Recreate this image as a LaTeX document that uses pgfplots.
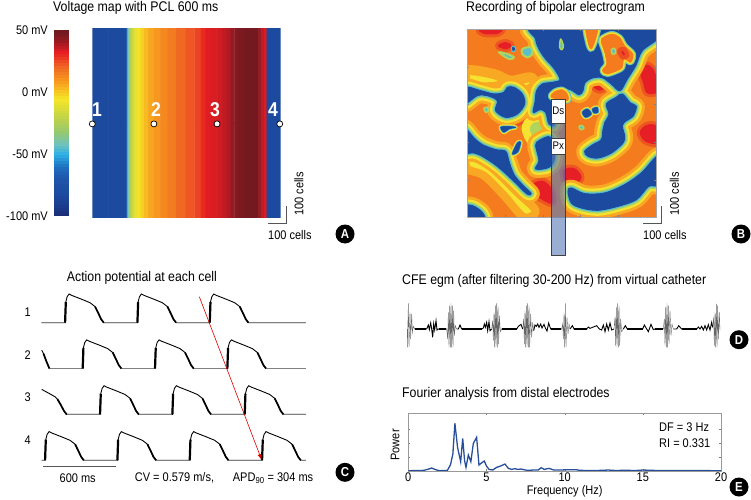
\documentclass[border=0pt]{standalone}
\usepackage{fontspec}
\setmainfont{Liberation Sans}[FakeStretch=0.88]
\usepackage{pgfplots}
\usepackage{pgfplotstable}
\pgfplotsset{compat=1.18}
\usetikzlibrary{arrows.meta}

\definecolor{lg}{HTML}{555555}
\definecolor{mapblue}{RGB}{28,74,158}
\definecolor{maporange}{RGB}{244,124,30}
\definecolor{mapred}{RGB}{230,30,38}
\definecolor{hlo}{RGB}{248,168,34}
\definecolor{hye}{RGB}{246,226,48}
\definecolor{hgr}{RGB}{176,212,92}
\definecolor{hcy}{RGB}{92,192,200}
\definecolor{specblue}{RGB}{38,78,155}

\pgfplotsset{
  colormap={voltage}{[1pt]
    rgb255(0pt)=(27,42,115) rgb255(8pt)=(27,60,140) rgb255(18pt)=(28,74,158)
    rgb255(30pt)=(30,85,170) rgb255(40pt)=(30,110,190) rgb255(50pt)=(45,175,230)
    rgb255(58pt)=(110,195,190) rgb255(68pt)=(150,200,110) rgb255(80pt)=(195,212,70)
    rgb255(95pt)=(245,230,40) rgb255(108pt)=(248,160,30) rgb255(120pt)=(240,105,35)
    rgb255(132pt)=(232,30,35) rgb255(142pt)=(150,25,35) rgb255(150pt)=(105,25,30)},
  blob/.style={no markers,forget plot,line join=round,smooth cycle,tension=0.55},
  panel/.style={scale only axis,anchor=south west},
  every tick label/.append style={font=\fontsize{12.5}{14}\selectfont},
}
\newcommand{\ttl}{\fontsize{14}{16}\selectfont}

% action potentials, ms and mV
\pgfplotstableread{
t v
0 -85
194 -85
200 5
211 28
227 40
249 34
332 17
401 2
443 -15
470 -44
493 -70
515 -85
794 -85
800 5
811 28
827 40
849 34
932 17
1001 2
1043 -15
1070 -44
1093 -70
1115 -85
1394 -85
1400 5
1411 28
1427 40
1449 34
1532 17
1601 2
1643 -15
1670 -44
1693 -70
1715 -85
2190 -85
}\cella
\pgfplotstableread{
t v
0 -5
15 -20
40 -55
64 -85
340 -85
346 5
357 28
373 40
395 34
478 17
547 2
589 -15
616 -44
639 -70
661 -85
940 -85
946 5
957 28
973 40
995 34
1078 17
1147 2
1189 -15
1216 -44
1239 -70
1261 -85
1540 -85
1546 5
1557 28
1573 40
1595 34
1678 17
1747 2
1789 -15
1816 -44
1839 -70
1861 -85
2190 -85
}\cellb
\pgfplotstableread{
t v
0 24
60 7
110 -8
130 -18
160 -45
185 -70
207 -85
484 -85
490 5
501 28
517 40
539 34
622 17
691 2
733 -15
760 -44
783 -70
805 -85
1084 -85
1090 5
1101 28
1117 40
1139 34
1222 17
1291 2
1333 -15
1360 -44
1383 -70
1405 -85
1684 -85
1690 5
1701 28
1717 40
1739 34
1822 17
1891 2
1933 -15
1960 -44
1983 -70
2005 -85
2190 -85
}\cellc
\pgfplotstableread{
t v
0 -85
28 -85
34 5
45 28
61 40
83 34
166 17
235 2
277 -15
304 -44
327 -70
349 -85
628 -85
634 5
645 28
661 40
683 34
766 17
835 2
877 -15
904 -44
927 -70
949 -85
1228 -85
1234 5
1245 28
1261 40
1283 34
1366 17
1435 2
1477 -15
1504 -44
1527 -70
1549 -85
1828 -85
1834 5
1845 28
1861 40
1883 34
1966 17
2035 2
2077 -15
2104 -44
2127 -70
2149 -85
2190 -85
}\celld

% blue areas of the spiral map, in zoomed image pixels
\newcommand{\bluelayer}[1]{%
  \addplot[blob,#1] coordinates {(208,-15) (205,30) (215,60) (235,90) (260,118) (278,152) (255,160) (225,165) (208,185) (203,220) (198,250) (218,242) (235,250) (245,285) (262,285) (255,215) (252,195) (282,178) (310,182) (335,197) (347,185) (352,162) (375,147) (405,146) (432,165) (458,185) (480,150) (505,110) (525,65) (575,25) (575,-15)};
  \addplot[blob,#1] coordinates {(417,225) (447,205) (465,195) (489,222) (507,232) (497,262) (477,275) (465,290) (472,322) (467,342) (432,372) (392,387) (362,382) (352,367) (377,347) (402,332) (407,302) (412,282) (425,255)};
  \addplot[blob,#1] coordinates {(-10,175) (40,185) (80,195) (110,190) (120,175) (140,175) (165,195) (172,225) (150,255) (115,265) (85,245) (90,215) (60,200) (30,200) (-10,225)};
  \addplot[blob,#1] coordinates {(-10,297) (20,327) (45,347) (85,362) (115,367) (125,397) (140,437) (165,467) (192,494) (178,494) (140,457) (90,412) (45,382) (20,372) (-10,367)};
  \addplot[blob,#1] coordinates {(205,350) (215,335) (250,325) (262,385) (245,415) (205,420) (215,395)};
  \addplot[blob,#1] coordinates {(-10,532) (15,530) (45,550) (50,575) (-10,575)};
  \addplot[blob,#1] coordinates {(302,487) (312,477) (352,494) (412,492) (472,467) (522,432) (575,380) (575,465) (544,472) (507,512) (452,532) (392,544) (342,537) (312,522)};
}
% small blue pockets, with a narrow edge
\newcommand{\bluesmall}[1]{%
  \addplot[blob,#1] coordinates {(135,375) (150,342) (160,340) (152,368)};
  \addplot[blob,#1] coordinates {(100,295) (120,292) (145,295) (125,300) (110,310)};
  \addplot[blob,#1] coordinates {(345,250) (360,240) (372,255) (355,265)};
  \addplot[blob,#1] coordinates {(375,240) (390,235) (392,250) (380,252)};
}
% warm patches lying inside the blue
\newcommand{\warmlayer}[1]{%
  \addplot[blob,#1] coordinates {(355,-15) (392,-15) (385,30) (372,60) (362,40)};
  \addplot[blob,#1] coordinates {(402,30) (432,15) (457,25) (472,50) (497,75) (490,100) (470,90) (465,115) (450,125) (420,135) (405,125) (418,105) (412,70) (405,50)};
  \addplot[blob,#1] coordinates {(252,205) (262,188) (285,182) (300,195) (300,215)};
}
% red cores
\newcommand{\redlayer}[1]{%
  \addplot[blob,#1] coordinates {(520,125) (540,110) (560,130) (570,185) (540,190) (530,160)};
  \addplot[blob,#1] coordinates {(520,310) (540,290) (570,295) (570,340) (535,335)};
  \addplot[blob,#1] coordinates {(195,470) (225,458) (250,480) (255,520) (235,515) (205,495)};
  \addplot[blob,#1] coordinates {(290,425) (320,420) (340,445) (320,465) (295,455)};
  \addplot[blob,#1] coordinates {(95,50) (115,42) (130,50) (115,58)};
  \addplot[blob,#1] coordinates {(40,0) (100,0) (90,12) (50,12)};
  \addplot[blob,#1] coordinates {(125,270) (145,265) (160,275) (140,282)};
  \addplot[blob,#1] coordinates {(380,170) (397,158) (415,170) (397,182)};
}

\begin{document}
\begin{tikzpicture}[x=1pt,y=1pt,every node/.style={inner sep=0pt,font=\fontsize{12.5}{15}\selectfont}]
\useasboundingbox (0,0) rectangle (751,499);

% ---------- A: voltage map
\begin{axis}[panel,at={(92.3pt,281.7pt)},width=188.4pt,height=188.3pt,
  xmin=0,xmax=1000,ymin=0,ymax=1000,hide x axis,axis y line=none,
  clip mode=individual,colormap name=voltage,point meta min=-100,point meta max=50,
  colorbar,colorbar sampled,colorbar style={samples=64,at={(-0.2033,0.007)},anchor=south west,
    width=15pt,height=186pt,ytick={-100,-50,0,50},
    yticklabels={-100 mV,-50 mV,0 mV,50 mV},yticklabel pos=left,
    tick style={draw=none},axis line style={draw=none},
    yticklabel style={font=\fontsize{12.5}{14}\selectfont,xshift=-6pt},
    /pgf/number format/assume math mode=true}]
\addplot[matrix plot*,mesh/cols=37,mesh/rows=2,mesh/ordering=y varies,point meta=\thisrow{v}] table[x=x,y=y,row sep=\\] {
x y v\\
0 0 -82\\ 0 1000 -82\\ 170 0 -82\\ 170 1000 -82\\
178 0 -82\\ 178 1000 -82\\ 183 0 -66\\ 183 1000 -66\\ 188 0 -50\\ 188 1000 -50\\ 194 0 -38\\ 194 1000 -38\\
200 0 -28\\ 200 1000 -28\\ 210 0 -20\\ 210 1000 -20\\ 220 0 -13\\ 220 1000 -13\\ 235 0 -8\\ 235 1000 -8\\
250 0 -4\\ 250 1000 -4\\ 265 0 -1\\ 265 1000 -1\\ 285 0 3\\ 285 1000 3\\ 310 0 7\\ 310 1000 7\\
345 0 10\\ 345 1000 10\\ 380 0 13\\ 380 1000 13\\ 420 0 16\\ 420 1000 16\\ 470 0 20\\ 470 1000 20\\
520 0 23\\ 520 1000 23\\ 565 0 26\\ 565 1000 26\\ 590 0 30\\ 590 1000 30\\ 610 0 33\\ 610 1000 33\\
650 0 34\\ 650 1000 34\\ 680 0 35\\ 680 1000 35\\ 705 0 37\\ 705 1000 37\\ 725 0 39\\ 725 1000 39\\
745 0 42\\ 745 1000 42\\ 765 0 45\\ 765 1000 45\\ 790 0 47\\ 790 1000 47\\ 830 0 48\\ 830 1000 48\\
875 0 48\\ 875 1000 48\\ 890 0 42\\ 890 1000 42\\ 905 0 37\\ 905 1000 37\\ 918 0 34\\ 918 1000 34\\
925 0 33\\ 925 1000 33\\ 928 0 -82\\ 928 1000 -82\\ 1000 0 -82\\ 1000 1000 -82\\
};
\addplot[only marks,mark=*,mark size=3pt,mark options={fill=white,draw=black,line width=0.7pt}] coordinates {(0,496) (327,496) (662,496) (995,496)};
\end{axis}
\foreach \n/\xx in {1/97,2/156,3/215,4/273}
  \node[font=\fontsize{20}{21}\selectfont\bfseries,text=white] at (\xx,389.7) {\n};

\node[anchor=west,font=\ttl] at (53,491) {Voltage map with PCL 600 ms};
\draw[lg,line width=0.7pt] (268.3,275.7)--(286.7,275.7)--(286.7,293);
\node[anchor=west] at (268,264) {100 cells};
\node[rotate=90,anchor=west] at (299,283) {100 cells};
\node[circle,fill=black,text=white,minimum size=19pt,font=\fontsize{13}{14}\selectfont\bfseries] at (345,265) {A};

% ---------- B: spiral map
\begin{axis}[panel,at={(467.3pt,281.7pt)},width=188.7pt,height=188.3pt,
  xmin=0,xmax=566,ymin=0,ymax=565,y dir=reverse,
  xtick={113,226,339,452},ytick={113,226,339,452},xticklabels={},yticklabels={},
  tick style={draw=gray,major tick length=2pt},axis line style={draw=gray!70},
  axis background/.style={fill=maporange},axis on top]
\redlayer{fill=mapred!55!maporange,draw=mapred!40!maporange,line width=8pt}
\redlayer{fill=mapred,draw=mapred,line width=2pt}
% broad yellow areas
\addplot[blob,fill=hye,draw=hlo,line width=10pt] coordinates {(0,125) (80,135) (130,155) (190,145) (200,170) (170,185) (120,170) (60,175) (0,170)};
\addplot[blob,fill=hgr,draw=hye,line width=8pt] coordinates {(195,270) (250,270) (250,330) (200,345) (175,300)};
\addplot[blob,fill=hye,draw=hlo,line width=8pt] coordinates {(0,385) (60,405) (150,490) (205,545) (170,565) (110,500) (50,440) (0,420)};
% blue areas with graded edges
\bluelayer{draw=hlo,line width=17pt}
\bluelayer{draw=hye,line width=11pt}
\bluelayer{draw=hgr,line width=6.5pt}
\bluelayer{draw=hcy,line width=3.5pt}
\bluelayer{draw=mapblue,fill=mapblue,line width=1pt}
\bluesmall{draw=hye,line width=4pt}
\bluesmall{draw=hcy,line width=2pt}
\bluesmall{draw=mapblue,fill=mapblue,line width=.5pt}
\warmlayer{draw=hcy,line width=6pt}
\warmlayer{draw=hgr,line width=4.5pt}
\warmlayer{draw=hye,line width=3pt}
\warmlayer{fill=maporange,draw=maporange,line width=.5pt}
\addplot[blob,fill=mapred,draw=mapred!50!maporange,line width=4pt] coordinates {(455,65) (470,60) (480,80) (465,85)};
\addplot[blob,fill=hcy,draw=hgr,line width=1.5pt] coordinates {(280,30) (288,50) (284,62) (277,55)};
\addplot[blob,fill=hcy,draw=hgr,line width=2pt] coordinates {(165,60) (190,55) (195,75) (180,85) (165,75)};
\addplot[blob,fill=hcy,draw=hgr,line width=2pt] coordinates {(95,70) (120,75) (140,85) (125,90)};
\addplot[blob,fill=mapblue,draw=hcy,line width=1pt] coordinates {(132,55) (140,52) (146,62) (136,68)};
\addplot[blob,fill=hcy,draw=hgr,line width=1.5pt] coordinates {(50,238) (60,235) (64,245) (55,250)};
\addplot[blob,fill=hcy,draw=hgr,line width=1.5pt] coordinates {(335,292) (345,290) (350,298) (340,302)};
\addplot[blob,fill=hcy,draw=hgr,line width=1.5pt] coordinates {(432,62) (442,58) (445,72) (435,75)};
\end{axis}
% catheter
\fill[white] (551,400) rectangle (565.7,375.7);
\fill[white] (551,360.7) rectangle (565.7,345);
\fill[mapblue!75!white,fill opacity=0.62] (551,375.7) rectangle (565.7,360.7);
\fill[mapblue!72!white,fill opacity=0.62] (551,345) rectangle (565.7,244);
\draw[black!75,line width=0.9pt] (551,244) rectangle (565.7,400);
\draw[black!75,line width=0.9pt] (551,375.7)--(565.7,375.7) (551,360.7)--(565.7,360.7) (551,345)--(565.7,345);
\node[font=\fontsize{11}{12}\selectfont] at (558.3,388) {Ds};
\node[font=\fontsize{11}{12}\selectfont] at (558.3,353) {Px};

\node[anchor=west,font=\ttl] at (466,491) {Recording of bipolar electrogram};
\draw[lg,line width=0.7pt] (643.3,275.7)--(661.7,275.7)--(661.7,293);
\node[anchor=west] at (643,264) {100 cells};
\node[rotate=90,anchor=west] at (674.5,283) {100 cells};
\node[circle,fill=black,text=white,minimum size=19pt,font=\fontsize{13}{14}\selectfont\bfseries] at (741,265) {B};

% ---------- C: action potentials
\begin{axis}[panel,at={(41.7pt,35.3pt)},width=264pt,height=172pt,
  xmin=0,xmax=2190,ymin=-700,ymax=50,hide axis,clip=false,unbounded coords=jump]
\addplot[black,line width=0.9pt,no markers] table[x=t,y=v] {\cella};
\addplot[black,line width=0.9pt,no markers] table[x=t,y expr=\thisrow{v}-200] {\cellb};
\addplot[black,line width=0.9pt,no markers] table[x=t,y expr=\thisrow{v}-400] {\cellc};
\addplot[black,line width=0.9pt,no markers] table[x=t,y expr=\thisrow{v}-600] {\celld};
% resting stretches are grey and thin
\addplot[gray,line width=1pt,no markers] coordinates {
(0,-85) (194,-85) (nan,nan) (515,-85) (794,-85) (nan,nan) (1115,-85) (1394,-85) (nan,nan) (1715,-85) (2190,-85) (nan,nan)
(64,-285) (340,-285) (nan,nan) (661,-285) (940,-285) (nan,nan) (1261,-285) (1540,-285) (nan,nan) (1861,-285) (2190,-285) (nan,nan)
(207,-485) (484,-485) (nan,nan) (805,-485) (1084,-485) (nan,nan) (1405,-485) (1684,-485) (nan,nan) (2005,-485) (2190,-485) (nan,nan)
(0,-685) (28,-685) (nan,nan) (349,-685) (628,-685) (nan,nan) (949,-685) (1228,-685) (nan,nan) (1549,-685) (1828,-685) (nan,nan) (2149,-685) (2190,-685)
};
% upstrokes and late repolarisation are heavy
\addplot[black,line width=2.2pt,no markers] coordinates {
(194,-85) (200,5) (nan,nan) (794,-85) (800,5) (nan,nan) (1394,-85) (1400,5) (nan,nan)
(340,-285) (346,-195) (nan,nan) (940,-285) (946,-195) (nan,nan) (1540,-285) (1546,-195) (nan,nan)
(484,-485) (490,-395) (nan,nan) (1084,-485) (1090,-395) (nan,nan) (1684,-485) (1690,-395) (nan,nan)
(28,-685) (34,-595) (nan,nan) (628,-685) (634,-595) (nan,nan) (1228,-685) (1234,-595) (nan,nan) (1828,-685) (1834,-595)
};
\addplot[black,line width=1.7pt,no markers] coordinates {
(443,-15) (470,-44) (493,-70) (515,-85) (nan,nan) (1043,-15) (1070,-44) (1093,-70) (1115,-85) (nan,nan) (1643,-15) (1670,-44) (1693,-70) (1715,-85) (nan,nan)
(15,-220) (40,-255) (64,-285) (nan,nan) (589,-215) (616,-244) (639,-270) (661,-285) (nan,nan) (1189,-215) (1216,-244) (1239,-270) (1261,-285) (nan,nan) (1789,-215) (1816,-244) (1839,-270) (1861,-285) (nan,nan)
(130,-418) (160,-445) (185,-470) (207,-485) (nan,nan) (733,-415) (760,-444) (783,-470) (805,-485) (nan,nan) (1333,-415) (1360,-444) (1383,-470) (1405,-485) (nan,nan) (1933,-415) (1960,-444) (1983,-470) (2005,-485) (nan,nan)
(277,-615) (304,-644) (327,-670) (349,-685) (nan,nan) (877,-615) (904,-644) (927,-670) (949,-685) (nan,nan) (1477,-615) (1504,-644) (1527,-670) (1549,-685) (nan,nan) (2077,-615) (2104,-644) (2127,-670) (2149,-685)
};
\end{axis}
\draw[-{Latex[length=6pt,width=4pt]},red!85!black,line width=0.6pt] (199.3,202.3)--(261.7,39);
\foreach \n/\yy in {1/187.3,2/144,3/101.7,4/59}
  \node at (27.7,\yy) {\n};
\draw[lg,line width=0.9pt] (43.3,33)--(115.7,33);
\node at (77.7,21.3) {600 ms};
\node[anchor=west] at (134.7,21.3) {CV = 0.579 m/s,};
\node[anchor=west] at (232.7,21.3) {APD\textsubscript{90} = 304 ms};
\node[anchor=west,font=\ttl] at (66.7,221) {Action potential at each cell};
\node[circle,fill=black,text=white,minimum size=19pt,font=\fontsize{13}{14}\selectfont\bfseries] at (345,26.7) {C};

% ---------- D: electrogram
\begin{axis}[panel,at={(390pt,150pt)},width=360pt,height=46.67pt,
  xmin=0,xmax=1080,ymin=-60,ymax=80,hide axis,unbounded coords=jump]
\addplot[black!60,line width=0.4pt,no markers] coordinates {
(52,0) (52,-55) (55,77) (57,-55) (60,50) (62,-30) (65,45) (67,-10) (70,8) (74,0) (nan,nan)
(170,0) (173,-30) (175,50) (177,-55) (179,70) (181,-55) (183,77) (185,-55) (187,70) (189,-55) (191,55) (193,-20) (196,10) (200,0) (nan,nan)
(305,0) (308,25) (310,-35) (312,50) (314,-55) (316,70) (318,-55) (320,77) (322,-55) (324,70) (326,-45) (328,40) (331,-8) (335,0) (nan,nan)
(398,0) (401,30) (403,-45) (405,55) (407,-55) (409,70) (411,-55) (413,77) (415,-55) (417,70) (419,-55) (422,45) (425,-25) (428,20) (431,-5) (nan,nan)
(515,0) (518,15) (520,-30) (522,45) (524,-55) (526,77) (528,-55) (531,35) (534,-15) (537,15) (540,0) (nan,nan)
(672,0) (675,35) (677,-50) (679,65) (681,-55) (683,77) (685,-55) (687,70) (689,-50) (692,30) (695,-8) (700,0) (nan,nan)
(820,0) (823,30) (825,-50) (827,65) (829,-55) (831,77) (833,-55) (835,70) (837,-45) (840,55) (843,-20) (846,15) (850,0) (nan,nan)
(968,5) (971,35) (973,-50) (975,50) (977,-55) (979,75) (981,-55) (983,70) (985,-30) (988,50) (990,-5)
};
\addplot[black,line width=0.9pt,no markers] coordinates {
(74,0) (110,0) (112,5) (115,12) (118,-2) (122,18) (125,0) (128,-25) (131,15) (134,-3) (138,25) (141,-3) (145,0) (170,0) (nan,nan)
(200,0) (205,0) (210,12) (215,0) (275,0) (280,3) (283,15) (286,5) (290,20) (293,-5) (297,22) (300,-5) (305,0) (nan,nan)
(335,0) (380,0) (385,8) (393,14) (398,0) (nan,nan)
(431,-5) (435,12) (439,8) (443,15) (447,5) (452,15) (456,3) (462,14) (466,3) (471,-6) (476,18) (482,0) (515,0) (nan,nan)
(540,0) (547,10) (552,0) (590,0) (595,6) (600,2) (610,6) (620,10) (628,0) (635,-3) (640,12) (645,-8) (650,15) (655,-3) (660,18) (665,-3) (672,0) (nan,nan)
(700,0) (706,10) (712,0) (758,0) (763,12) (770,0) (775,-8) (783,14) (790,-2) (795,0) (820,0) (nan,nan)
(850,0) (860,0) (866,10) (875,0) (920,0) (925,6) (930,0) (935,8) (940,-3) (945,10) (950,-3) (955,13) (960,-3) (965,20) (968,5)
};
% flat stretches of the trace are heavier
\addplot[black,line width=1.6pt,no markers] coordinates {
(76,0) (108,0) (nan,nan) (146,0) (168,0) (nan,nan) (215,0) (275,0) (nan,nan) (335,0) (380,0) (nan,nan) (482,0) (513,0) (nan,nan)
(552,0) (590,0) (nan,nan) (712,0) (758,0) (nan,nan) (795,0) (818,0) (nan,nan) (875,0) (920,0)
};
\end{axis}
\node[anchor=west,font=\ttl] at (402,218.3) {CFE egm (after filtering 30-200 Hz) from virtual catheter};
\node[circle,fill=black,text=white,minimum size=19pt,font=\fontsize{13}{14}\selectfont\bfseries] at (739,159.3) {D};

% ---------- E: spectrum
\begin{axis}[panel,at={(408.3pt,28.3pt)},width=312.7pt,height=57.4pt,
  xmin=0,xmax=20,ymin=0,ymax=172,xtick={0,5,10,15,20},ytick={41,82,124},yticklabels={},
  tick style={draw=gray,major tick length=2pt},axis line style={draw=gray!80},
  tick align=inside,/pgf/number format/assume math mode=true,
  xlabel={Frequency (Hz)},ylabel={Power},
  every axis x label/.style={at={(axis description cs:0.5,0)},anchor=center,yshift=-21pt,font=\fontsize{12.5}{15}\selectfont,inner sep=0pt},
  every axis y label/.style={at={(axis description cs:-0.042,0.45)},anchor=center,rotate=90,font=\fontsize{12.5}{15}\selectfont,inner sep=0pt},
  xticklabel style={font=\fontsize{12.5}{15}\selectfont,yshift=-2pt}]
\addplot[color=specblue,line width=1.3pt,no markers] coordinates {
(0,0) (1.0,1) (1.3,5) (1.49,8) (1.75,3) (2.0,0) (2.5,1) (2.7,18) (2.85,50) (2.98,142) (3.15,70) (3.35,27) (3.48,97)
(3.6,30) (3.69,10) (3.84,47) (4.0,27) (4.16,82) (4.37,100) (4.52,17) (4.7,24) (4.86,29) (5.0,14) (5.16,4) (5.4,2)
(5.65,10) (5.9,14) (6.18,20) (6.4,7) (6.6,4) (6.82,6) (7.0,4) (7.2,5) (7.6,1) (8.0,2) (8.3,2) (8.5,9) (8.7,4) (9.0,7)
(9.3,2) (9.7,2) (10.2,3) (10.7,3) (11.0,1) (12,0.5) (12.8,2) (13.3,0.5) (13.8,1.5) (14.5,0.5) (15,2) (16,0.5) (18,0.5) (20,0)
};
\end{axis}
\node[anchor=west] at (659,72) {DF = 3 Hz};
\node[anchor=west] at (659,55.7) {RI = 0.331};
\node[anchor=west,font=\ttl] at (402,105) {Fourier analysis from distal electrodes};
\node[circle,fill=black,text=white,minimum size=19pt,font=\fontsize{13}{14}\selectfont\bfseries] at (739,12) {E};
\end{tikzpicture}
\end{document}
